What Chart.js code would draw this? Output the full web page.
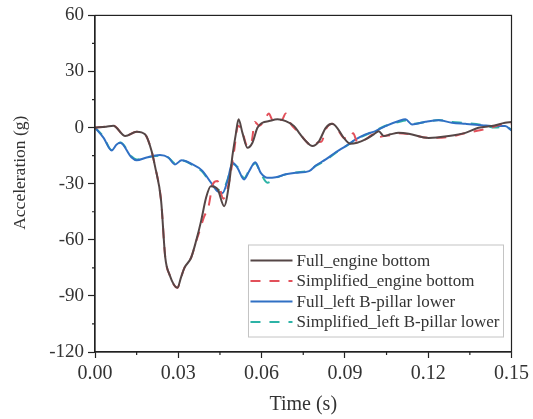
<!DOCTYPE html>
<html>
<head>
<meta charset="utf-8">
<title>Acceleration</title>
<script src="https://cdn.jsdelivr.net/npm/chart.js@4.4.0/dist/chart.umd.min.js"></script>
<style>
  html, body { margin: 0; padding: 0; background: #fff; }
  #wrap { width: 533px; height: 419px; }
</style>
</head>
<body>
<div id="wrap"><canvas id="accChart" width="533" height="419"></canvas></div>
<script>
// engine bottom, full model
const timeFullEngine = [0, 0.004, 0.0066, 0.0109, 0.015, 0.018, 0.0204, 0.0216, 0.0238, 0.0253, 0.0268, 0.0297, 0.031, 0.0322, 0.0346, 0.0364, 0.0382, 0.04, 0.0417, 0.0441, 0.0465, 0.0483, 0.0495, 0.0507, 0.0517, 0.0531, 0.0549, 0.0567, 0.0585, 0.0603, 0.0627, 0.0657, 0.0687, 0.0717, 0.0735, 0.0759, 0.0783, 0.0807, 0.0831, 0.0854, 0.0872, 0.0896, 0.092, 0.0944, 0.0974, 0.1004, 0.1022, 0.104, 0.1064, 0.1094, 0.113, 0.1202, 0.1274, 0.1334, 0.1381, 0.1429, 0.1477, 0.15];
const accFullEngine = [0, 0.5, 1, -4.5, -2.2, -3.6, -12.6, -20.6, -39, -69.4, -78.5, -85.7, -80, -75, -69.6, -60.7, -50, -37.5, -31.3, -32.8, -42, -30, -15, -3.6, 4.4, -2.8, -10.8, -8.1, -0.1, 2.6, 3.5, 4.4, 3.5, 0.8, -2.8, -7.2, -9.9, -7.2, -0.1, 2, -0.1, -5.5, -8.7, -8.1, -6.3, -3.6, -1.9, -4.5, -3.6, -2.8, -3.3, -5.5, -4.5, -2.8, -0.1, 0.8, 2.6, 3];

// engine bottom, simplified model
const timeSimpEngine = [0, 0.004, 0.0066, 0.0109, 0.015, 0.018, 0.0204, 0.0216, 0.0238, 0.0253, 0.0268, 0.0297, 0.031, 0.0322, 0.0346, 0.0364, 0.0375, 0.0392, 0.0409, 0.0425, 0.0441, 0.0462, 0.0483, 0.0501, 0.0515, 0.053, 0.0549, 0.0565, 0.0575, 0.0592, 0.061, 0.0626, 0.064, 0.0657, 0.0672, 0.0687, 0.0705, 0.0735, 0.0759, 0.0783, 0.0807, 0.0816, 0.0831, 0.0854, 0.0872, 0.0896, 0.0915, 0.093, 0.0944, 0.0974, 0.1004, 0.101, 0.104, 0.1064, 0.1094, 0.113, 0.1202, 0.1274, 0.1334, 0.1381, 0.1415, 0.1477, 0.15];
const accSimpEngine = [0, 0.5, 1, -4.5, -2.2, -3.6, -12.6, -20.6, -39, -69.4, -78.5, -85.7, -80, -75, -69.6, -61, -56, -48, -42, -30, -28.6, -38, -29, -12.5, 1, -2, -10, -7, 3, 1, 4, 7.5, 4, 5, 4, 7.5, 2, -2.8, -7.2, -9.9, -7.7, -7.5, -1, 2, -0.5, -5.5, -6, -3, -7.5, -6.3, -3.6, -5.5, -4.5, -4, -3, -3.5, -5.5, -5, -3, -1.5, -0.5, 2, 2];

// left B-pillar lower, full model
const timeFullPillar = [0, 0.0031, 0.006, 0.0078, 0.0091, 0.0132, 0.015, 0.0186, 0.0234, 0.0264, 0.0288, 0.0312, 0.0351, 0.0386, 0.0418, 0.0441, 0.0459, 0.0477, 0.0495, 0.0513, 0.0537, 0.0555, 0.0577, 0.0597, 0.0621, 0.0651, 0.0687, 0.0723, 0.0771, 0.0795, 0.0831, 0.0867, 0.0903, 0.0939, 0.0974, 0.101, 0.1046, 0.1094, 0.1118, 0.1142, 0.119, 0.1238, 0.1286, 0.1334, 0.1393, 0.1441, 0.1477, 0.15];
const accFullPillar = [0, -5.5, -12.2, -9, -8.1, -16, -17.5, -16, -14.7, -16, -19.7, -17.5, -19.7, -23, -29.5, -34, -35, -28.6, -18.8, -21.5, -27.7, -23.3, -18.5, -24.2, -26.8, -26.5, -25, -24.2, -23.3, -20.3, -17, -13.2, -9.9, -6.3, -3.6, -1.9, 0.8, 3.5, 4.4, 1.7, 3.1, 3.9, 2.6, 2, 1.3, 0.8, 0.8, -1.5];

// left B-pillar lower, simplified model
const timeSimpPillar = timeFullPillar;
const accSimpPillar = [0, -5, -12, -9.5, -8, -15.5, -17, -16, -15, -16, -19, -17.5, -20, -23.5, -30, -33, -33.5, -28, -19.5, -21, -27, -23, -19, -24.5, -29.5, -27, -25, -24, -23, -20.5, -17.5, -13.5, -10, -6.5, -4, -1.5, 1, 3, 3.8, 2, 3, 4, 3, 2.5, 1.5, 0, 0.5, -1];

const seriesLabels = ['Full_engine bottom', 'Simplified_engine bottom', 'Full_left B-pillar lower', 'Simplified_left B-pillar lower'];
const minorTime = [0.015, 0.045, 0.075, 0.105, 0.135];
const minorAcc = [45, 15, -15, -45, -75, -105];

const serif = "'Liberation Serif', 'Times New Roman', serif";
const axisColor = '#222';
const textColor = '#333';

function toPoints(ts, vs) {
  return ts.map((t, i) => ({ x: t, y: vs[i] }));
}

function lineSet(label, ts, vs, color, dash) {
  return {
    label: label,
    data: toPoints(ts, vs),
    borderColor: color,
    backgroundColor: color,
    borderWidth: 2,
    borderDash: dash,
    pointRadius: 0,
    cubicInterpolationMode: 'monotone',
    fill: false
  };
}

// frame, minor ticks, y title and the inset legend
const decorations = {
  id: 'decorations',
  afterDraw(chart) {
    const { ctx, chartArea: a, scales } = chart;
    ctx.save();
    ctx.strokeStyle = axisColor;
    ctx.lineWidth = 1.2;
    ctx.strokeRect(a.left, a.top, a.right - a.left, a.bottom - a.top);

    ctx.beginPath();
    minorTime.forEach(v => {
      const x = scales.x.getPixelForValue(v);
      ctx.moveTo(x, a.bottom);
      ctx.lineTo(x, a.bottom + 3);
    });
    minorAcc.forEach(v => {
      const y = scales.y.getPixelForValue(v);
      ctx.moveTo(a.left, y);
      ctx.lineTo(a.left - 3, y);
    });
    ctx.stroke();

    // y axis title
    ctx.save();
    ctx.translate(20, (a.top + a.bottom) / 2 - 11);
    ctx.rotate(-Math.PI / 2);
    ctx.font = '17.5px ' + serif;
    ctx.fillStyle = textColor;
    ctx.textAlign = 'center';
    ctx.textBaseline = 'middle';
    ctx.fillText('Acceleration (g)', 0, 0);
    ctx.restore();

    // legend
    const sets = chart.data.datasets;
    ctx.font = '17px ' + serif;
    const textW = Math.max(...sets.map(d => ctx.measureText(d.label).width));
    const rowH = 20.5;
    const lineW = 42;
    const boxW = 2 + lineW + 4 + textW + 4;
    const boxH = rowH * sets.length + 10;
    const bx = a.right - 8 - boxW;
    const by = a.bottom - 15 - boxH;
    ctx.fillStyle = '#fff';
    ctx.fillRect(bx, by, boxW, boxH);
    ctx.strokeStyle = '#c4c4c4';
    ctx.lineWidth = 1;
    ctx.strokeRect(bx, by, boxW, boxH);
    sets.forEach((d, i) => {
      const cy = by + 15.5 + i * rowH;
      ctx.strokeStyle = d.borderColor;
      ctx.lineWidth = 2;
      ctx.setLineDash(d.borderDash || []);
      ctx.beginPath();
      ctx.moveTo(bx + 2, cy);
      ctx.lineTo(bx + 2 + lineW, cy);
      ctx.stroke();
      ctx.setLineDash([]);
      ctx.fillStyle = textColor;
      ctx.textAlign = 'left';
      ctx.textBaseline = 'middle';
      ctx.fillText(d.label, bx + 2 + lineW + 4, cy + 1);
    });
    ctx.restore();
  }
};

new Chart(document.getElementById('accChart'), {
  type: 'line',
  data: {
    datasets: [
      lineSet(seriesLabels[0], timeFullEngine, accFullEngine, '#554646', []),
      lineSet(seriesLabels[1], timeSimpEngine, accSimpEngine, '#e2505a', [10, 9]),
      lineSet(seriesLabels[2], timeFullPillar, accFullPillar, '#3070c4', []),
      lineSet(seriesLabels[3], timeSimpPillar, accSimpPillar, '#2cb3a6', [10, 9])
    ]
  },
  options: {
    responsive: false,
    animation: false,
    layout: { padding: { top: 15, right: 20, left: 0, bottom: 0 } },
    plugins: {
      legend: { display: false },
      tooltip: { enabled: false }
    },
    scales: {
      x: {
        type: 'linear',
        min: 0,
        max: 0.15,
        afterFit: scale => { scale.height = 67; },
        ticks: {
          stepSize: 0.03,
          padding: 4,
          color: textColor,
          font: { family: serif, size: 20 },
          maxRotation: 0,
          callback: v => v.toFixed(2)
        },
        grid: { drawOnChartArea: false, drawTicks: true, tickLength: 6, tickColor: axisColor, tickWidth: 1.2 },
        border: { color: axisColor, width: 1.2 },
        title: {
          display: true,
          text: 'Time (s)',
          color: textColor,
          font: { family: serif, size: 20 },
          padding: { top: 0, bottom: 2 }
        }
      },
      y: {
        min: -120,
        max: 60,
        afterFit: scale => { scale.width = 95; },
        ticks: {
          stepSize: 30,
          padding: 4,
          color: textColor,
          font: { family: serif, size: 19 }
        },
        grid: { drawOnChartArea: false, drawTicks: true, tickLength: 7, tickColor: axisColor, tickWidth: 1.2 },
        border: { color: axisColor, width: 1.2 }
      }
    }
  },
  plugins: [decorations]
});
</script>
</body>
</html>
